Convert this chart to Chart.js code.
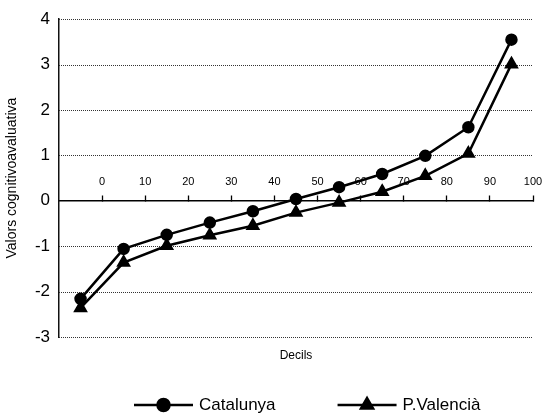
<!DOCTYPE html>
<html>
<head>
<meta charset="utf-8">
<script src="https://cdn.jsdelivr.net/npm/chart.js@4.4.1/dist/chart.umd.min.js"></script>
<style>
  html, body { margin: 0; padding: 0; background: #fff; }
  #wrap { width: 552px; height: 415px; position: relative; }
</style>
</head>
<body>
<div id="wrap"><canvas id="decilsChart"></canvas></div>
<script>
/* ===== DATA ===== */
const decilPos = [-5, 5, 15, 25, 35, 45, 55, 65, 75, 85, 95];
const catalunya = [-2.16, -1.06, -0.75, -0.48, -0.23, 0.04, 0.30, 0.59, 0.99, 1.62, 3.55];
const valencia = [-2.36, -1.36, -0.99, -0.76, -0.55, -0.26, -0.04, 0.20, 0.55, 1.04, 3.01];
const xTicks = [0, 10, 20, 30, 40, 50, 60, 70, 80, 90, 100];
const yTicks = [-3, -2, -1, 0, 1, 2, 3, 4];
const seriesNames = ['Catalunya', 'P.Valencià'];

const FONT = "'Liberation Sans', Arial, Helvetica, sans-serif";

function toPoints(values) {
    return values.map((v, i) => ({ x: decilPos[i], y: v }));
}

/* ===== DOTTED GRID (y) ===== */
const dottedGrid = {
    id: 'dottedGrid',
    beforeDatasetsDraw(chart) {
        const { ctx, chartArea, scales } = chart;
        ctx.save();
        ctx.strokeStyle = '#333';
        ctx.lineWidth = 1;
        ctx.setLineDash([1, 1]);
        yTicks.forEach(v => {
            if (v === 0) return;
            const py = Math.round(scales.y.getPixelForValue(v)) + 0.5;
            ctx.beginPath();
            ctx.moveTo(chartArea.left, py);
            ctx.lineTo(chartArea.right, py);
            ctx.stroke();
        });
        ctx.restore();
    }
};

/* ===== LEGEND (line + marker) ===== */
const lineLegend = {
    id: 'lineLegend',
    afterDraw(chart) {
        const ctx = chart.ctx;
        const y = 405;
        const lineLen = 59;
        let x = 134;
        ctx.save();
        ctx.font = '17px ' + FONT;
        ctx.textBaseline = 'middle';
        chart.data.datasets.forEach((ds) => {
            ctx.strokeStyle = '#000';
            ctx.fillStyle = '#000';
            ctx.lineWidth = 2.5;
            ctx.beginPath();
            ctx.moveTo(x, y);
            ctx.lineTo(x + lineLen, y);
            ctx.stroke();
            Chart.helpers.drawPoint(ctx, {
                pointStyle: ds.pointStyle,
                radius: ds.pointStyle === 'triangle' ? 7 : 6,
                rotation: 0,
                borderWidth: 1
            }, x + lineLen / 2, y);
            const tx = x + lineLen + 6;
            ctx.fillStyle = '#000';
            ctx.fillText(ds.label, tx, y);
            x = tx + ctx.measureText(ds.label).width + 62;
        });
        ctx.restore();
    }
};

/* ===== CHART ===== */
function initializeChart() {
    const ctx = document.getElementById('decilsChart');
    new Chart(ctx.getContext('2d'), {
        type: 'line',
        data: {
            datasets: [{
                label: seriesNames[0],
                data: toPoints(catalunya),
                borderColor: '#000',
                backgroundColor: '#000',
                borderWidth: 2.5,
                pointStyle: 'circle',
                pointRadius: 5,
                pointBackgroundColor: '#000',
                pointBorderColor: '#000',
                tension: 0
            }, {
                label: seriesNames[1],
                data: toPoints(valencia),
                borderColor: '#000',
                backgroundColor: '#000',
                borderWidth: 2.5,
                pointStyle: 'triangle',
                pointRadius: 6,
                pointBackgroundColor: '#000',
                pointBorderColor: '#000',
                tension: 0
            }]
        },
        options: {
            responsive: true,
            maintainAspectRatio: false,
            animation: false,
            layout: { padding: { left: 0, right: 19, top: 18, bottom: 52 } },
            plugins: {
                legend: { display: false },
                tooltip: { enabled: false }
            },
            scales: {
                x: {
                    type: 'linear',
                    min: -10,
                    max: 100,
                    position: { y: 0 },
                    afterBuildTicks: (scale) => {
                        scale.ticks = xTicks.map(v => ({ value: v }));
                    },
                    ticks: {
                        color: '#000',
                        font: { family: FONT, size: 11 },
                        padding: -19,
                        maxRotation: 0,
                        autoSkip: false
                    },
                    grid: {
                        drawOnChartArea: false,
                        drawTicks: true,
                        tickLength: -6,
                        tickColor: '#000',
                        tickWidth: 1.3
                    },
                    border: { display: true, color: '#000', width: 1.5 }
                },
                xTitle: {
                    type: 'linear',
                    axis: 'x',
                    position: 'bottom',
                    ticks: { display: false },
                    grid: { display: false, drawTicks: false },
                    border: { display: false },
                    title: {
                        display: true,
                        text: 'Decils',
                        color: '#000',
                        font: { family: FONT, size: 12 },
                        padding: { top: 4, bottom: 0 }
                    },
                    afterFit: (scale) => { scale.height = 26; }
                },
                y: {
                    min: -3,
                    max: 4,
                    afterBuildTicks: (scale) => {
                        scale.ticks = yTicks.map(v => ({ value: v }));
                    },
                    ticks: {
                        color: '#000',
                        font: { family: FONT, size: 17 },
                        padding: 9
                    },
                    grid: { display: false, drawTicks: false },
                    border: { display: true, color: '#111', width: 1.5 },
                    title: {
                        display: true,
                        text: 'Valors cognitivoavaluativa',
                        color: '#000',
                        font: { family: FONT, size: 14 },
                        padding: { top: 4, bottom: 0 }
                    },
                    afterFit: (scale) => { scale.width = 59; }
                }
            }
        },
        plugins: [dottedGrid, lineLegend]
    });
}

document.addEventListener('DOMContentLoaded', initializeChart);
</script>
</body>
</html>
